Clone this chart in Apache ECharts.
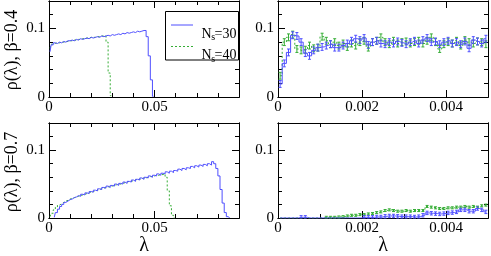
<!DOCTYPE html>
<html><head><meta charset="utf-8">
<script src="https://cdn.jsdelivr.net/npm/echarts@6/dist/echarts.min.js"></script>
<style>html,body{margin:0;padding:0;background:#fff}#c{width:491px;height:256px}</style>
</head><body><div id="c"></div>
<script>
// ---------------- data ----------------
const seriesNames = ['N_s=30', 'N_s=40'];
const binLeft = 0.001;     // histogram bin width, left panels
const binRight = 0.0001;   // histogram bin width, right panels

// top-left (beta=0.4), bins start at 0
const tlBlue = [0.066,0.076,0.079,0.078,0.080,0.079,0.081,0.080,0.082,0.082,
  0.083,0.082,0.084,0.083,0.085,0.084,0.085,0.086,0.085,0.087,
  0.086,0.087,0.088,0.087,0.089,0.088,0.089,0.090,0.089,0.091,
  0.090,0.091,0.092,0.091,0.093,0.092,0.094,0.093,0.094,0.095,
  0.094,0.096,0.095,0.096,0.097,0.097,0.088,0.060,0.025,0.001];
const tlGreen = [0.071,0.077,0.078,0.079,0.079,0.080,0.080,0.081,0.081,0.082,
  0.082,0.083,0.083,0.084,0.084,0.085,0.085,0.086,0.086,0.087,
  0.087,0.087,0.088,0.088,0.089,0.089,0.089,0.080,0.035,0.002];

// bottom-left (beta=0.7)
const blBlueStart = 0.0025;
const blBlue = [0.001,0.008,0.013,0.017,0.020,0.023,0.025,0.027,0.028,0.030,
  0.031,0.033,0.032,0.035,0.034,0.037,0.036,0.039,0.038,0.041,
  0.040,0.043,0.042,0.045,0.044,0.047,0.045,0.048,0.047,0.050,
  0.048,0.051,0.050,0.053,0.051,0.054,0.053,0.056,0.054,0.057,
  0.056,0.059,0.057,0.060,0.059,0.062,0.060,0.063,0.062,0.065,
  0.063,0.066,0.065,0.068,0.066,0.069,0.067,0.070,0.069,0.072,
  0.070,0.073,0.071,0.074,0.073,0.076,0.074,0.077,0.075,0.078,
  0.076,0.079,0.077,0.080,0.078,0.083,0.080,0.073,0.062,0.042,
  0.022,0.008,0.002,0.000];
const blGreenStart = 0.0005;
const blGreen = [0.002,0.007,0.012,0.016,0.019,0.021,0.023,0.025,0.026,0.028,
  0.029,0.030,0.031,0.032,0.033,0.034,0.035,0.036,0.037,0.038,
  0.039,0.040,0.041,0.042,0.043,0.044,0.045,0.046,0.046,0.047,
  0.048,0.049,0.050,0.050,0.051,0.052,0.053,0.054,0.054,0.055,
  0.056,0.057,0.057,0.058,0.059,0.059,0.060,0.061,0.061,0.062,
  0.063,0.063,0.064,0.064,0.065,0.060,0.040,0.018,0.004,0.000];

// top-right (zoom, beta=0.4)
const trBlue = [0.019,0.049,0.065,0.090,0.089,0.080,0.064,0.060,0.068,0.072,
  0.073,0.075,0.077,0.072,0.072,0.075,0.078,0.082,0.085,0.083,
  0.086,0.076,0.080,0.082,0.078,0.077,0.080,0.078,0.081,0.079,
  0.077,0.080,0.082,0.078,0.083,0.086,0.080,0.081,0.077,0.080,
  0.082,0.078,0.080,0.077,0.081,0.071,0.083,0.081,0.078,0.085];
const trGreen = [0.031,0.080,0.087,0.091,0.070,0.068,0.069,0.075,0.071,0.072,
  0.088,0.082,0.077,0.080,0.075,0.078,0.073,0.078,0.075,0.080,
  0.082,0.072,0.080,0.082,0.087,0.080,0.077,0.082,0.078,0.080,
  0.081,0.078,0.080,0.082,0.078,0.082,0.087,0.080,0.070,0.077,
  0.080,0.078,0.082,0.075,0.083,0.080,0.078,0.081,0.080,0.077];

// bottom-right (zoom, beta=0.7)
const brBlue = [0,0,0,0,0,0.001,0.001,0,0,0,
  0,0,0,0,0,0,0,0,0,0,
  0.001,0.001,0.001,0.0015,0.0015,0.0025,0.003,0.003,0.0025,0.002,
  0.002,0.002,0.0015,0.002,0.004,0.0075,0.007,0.0065,0.006,0.0065,
  0.0075,0.008,0.009,0.012,0.012,0.010,0.010,0.014,0.012,0.009];
const brGreen = [0,0,0,0,0,0,0,0,0,0,
  0,0.001,0.001,0.001,0.0015,0.002,0.003,0.004,0.004,0.005,
  0.005,0.006,0.0065,0.008,0.009,0.011,0.012,0.011,0.010,0.010,
  0.011,0.010,0.011,0.011,0.011,0.017,0.016,0.015,0.014,0.014,
  0.015,0.015,0.016,0.016,0.017,0.016,0.017,0.016,0.018,0.019];

// error bar half-widths
const trBlueErr = 0.005, trGreenErr = 0.005, brBlueErr = 0.0025, brGreenErr = 0.0015;

const xLabelsLeft = ['0', '0.05'];
const xLabelsRight = ['0', '0.002', '0.004'];
const yLabels = ['0', '0.1'];
const yTitles = ['ρ(λ), β=0.4', 'ρ(λ), β=0.7'];
const xTitle = 'λ';

// ---------------- chart ----------------
const BLUE = '#4f4fff', GREEN = '#35ad35';
const FONT = 'Liberation Serif';

const grids = [
  {left: 49, top: 1, width: 190, height: 96},
  {left: 278, top: 1, width: 211, height: 96},
  {left: 49, top: 123, width: 190, height: 95},
  {left: 278, top: 123, width: 211, height: 95}
];
const xSpecs = [
  {max: 0.09, minor: 0.01, major: 0.05, labels: xLabelsLeft},
  {max: 0.005, minor: 0.001, major: 0.002, labels: xLabelsRight},
  {max: 0.09, minor: 0.01, major: 0.05, labels: xLabelsLeft},
  {max: 0.005, minor: 0.001, major: 0.002, labels: xLabelsRight}
];
const ySpec = {max: 0.14, minor: 0.02, major: 0.1, labels: yLabels};

function pick(v, labels) {
  for (const l of labels) if (Math.abs(parseFloat(l) - v) < 1e-9) return l;
  return '';
}
const lineBlack = {show: true, onZero: false, lineStyle: {color: '#000', width: 1}};
function makeAxes(g, spec, isX) {
  const posA = isX ? 'bottom' : 'left', posB = isX ? 'top' : 'right';
  const base = {gridIndex: g, type: 'value', min: 0, max: spec.max, splitLine: {show: false}, axisLine: lineBlack};
  const lab = {show: true, interval: 0, margin: isX ? 3 : 4, fontFamily: FONT, fontSize: 15, color: '#000',
               formatter: v => pick(v, spec.labels)};
  const tick = len => ({show: true, inside: true, length: len, lineStyle: {color: '#000', width: 1}});
  return [
    Object.assign({}, base, {position: posA, interval: spec.minor, axisTick: tick(4), axisLabel: lab}),
    Object.assign({}, base, {position: posA, interval: spec.major, axisTick: tick(7), axisLabel: {show: false}}),
    Object.assign({}, base, {position: posB, interval: spec.minor, axisTick: tick(4), axisLabel: {show: false}}),
    Object.assign({}, base, {position: posB, interval: spec.major, axisTick: tick(7), axisLabel: {show: false}})
  ];
}
let xAxes = [], yAxes = [];
for (let g = 0; g < 4; g++) {
  xAxes = xAxes.concat(makeAxes(g, xSpecs[g], true));
  yAxes = yAxes.concat(makeAxes(g, ySpec, false));
}

function pts(arr, start, bin) { return arr.map((v, i) => [start + i * bin, v]); }
function lineSeries(name, g, data, color, dashed) {
  return {
    name: name, type: 'line', xAxisIndex: 4 * g, yAxisIndex: 4 * g, data: data,
    step: 'middle', symbol: 'none', silent: true, z: dashed ? 3 : 4,
    lineStyle: {color: color, width: 1, type: dashed ? [2, 2] : 'solid'},
    itemStyle: {color: color}
  };
}
function errSeries(g, arr, err, color) {
  const data = [];
  arr.forEach((v, i) => { if (v > 0) { const x = binRight / 2 + i * binRight; data.push([x, Math.max(0, v - err), v + err]); } });
  return {
    name: 'err', type: 'custom', xAxisIndex: 4 * g, yAxisIndex: 4 * g, silent: true, z: 3,
    encode: {x: 0, y: [1, 2]}, data: data,
    renderItem: (params, api) => {
      const x = api.value(0);
      const p1 = api.coord([x, api.value(1)]), p2 = api.coord([x, api.value(2)]);
      const st = {stroke: color, lineWidth: 1};
      return {type: 'group', children: [
        {type: 'line', shape: {x1: p1[0], y1: p1[1], x2: p2[0], y2: p2[1]}, style: st},
        {type: 'line', shape: {x1: p1[0] - 1.5, y1: p1[1], x2: p1[0] + 1.5, y2: p1[1]}, style: st},
        {type: 'line', shape: {x1: p2[0] - 1.5, y1: p2[1], x2: p2[0] + 1.5, y2: p2[1]}, style: st}
      ]};
    }
  };
}

const series = [
  lineSeries(seriesNames[0], 0, pts(tlBlue, binLeft / 2, binLeft), BLUE, false),
  lineSeries(seriesNames[1], 0, pts(tlGreen, binLeft / 2, binLeft), GREEN, true),
  lineSeries(seriesNames[1], 1, pts(trGreen, binRight / 2, binRight), GREEN, true),
  errSeries(1, trGreen, trGreenErr, GREEN),
  lineSeries(seriesNames[0], 1, pts(trBlue, binRight / 2, binRight), BLUE, false),
  errSeries(1, trBlue, trBlueErr, BLUE),
  lineSeries(seriesNames[0], 2, pts(blBlue, blBlueStart, binLeft), BLUE, false),
  lineSeries(seriesNames[1], 2, pts(blGreen, blGreenStart, binLeft), GREEN, true),
  lineSeries(seriesNames[1], 3, pts(brGreen, binRight / 2, binRight), GREEN, true),
  errSeries(3, brGreen, brGreenErr, GREEN),
  lineSeries(seriesNames[0], 3, pts(brBlue, binRight / 2, binRight), BLUE, false),
  errSeries(3, brBlue, brBlueErr, BLUE)
];

// legend drawn as graphic (box, sample lines, text with subscript)
function legendEntry(name, color, dashed, yLine) {
  const parts = name.split('_');            // 'N', 's=30'
  const main = parts[0], sub = parts[1][0], rest = parts[1].slice(1);
  const f = sz => sz + 'px "Liberation Serif"';
  return [
    {type: 'line', z: 101, shape: {x1: 171, y1: yLine, x2: 193, y2: yLine},
     style: {stroke: color, lineWidth: 1, lineDash: dashed ? [2, 2] : null}},
    {type: 'text', z: 101, x: 201.5, y: yLine + 2,
     style: {text: main, font: f(14), fill: '#000', textAlign: 'left', textBaseline: 'alphabetic'}},
    {type: 'text', z: 101, x: 211.2, y: yLine + 7.5,
     style: {text: sub, font: f(10), fill: '#000', textAlign: 'left', textBaseline: 'alphabetic'}},
    {type: 'text', z: 101, x: 214.5, y: yLine + 2,
     style: {text: rest, font: f(14), fill: '#000', textAlign: 'left', textBaseline: 'alphabetic'}}
  ];
}

const chart = echarts.init(document.getElementById('c'), null, {renderer: 'canvas'});
chart.setOption({
  animation: false,
  backgroundColor: '#fff',
  grid: grids,
  xAxis: xAxes,
  yAxis: yAxes,
  graphic: [
    {type: 'rect', z: 100, shape: {x: 165.5, y: 11.5, width: 73, height: 48.5},
     style: {fill: '#fff', stroke: '#000', lineWidth: 1}},
    ...legendEntry(seriesNames[0], BLUE, false, 25),
    ...legendEntry(seriesNames[1], GREEN, true, 46.5),
    {type: 'text', x: 12, y: 50, rotation: Math.PI / 2,
     style: {text: yTitles[0], font: '18px "Liberation Serif"', fill: '#000', textAlign: 'center', textVerticalAlign: 'middle'}},
    {type: 'text', x: 12, y: 172, rotation: Math.PI / 2,
     style: {text: yTitles[1], font: '18px "Liberation Serif"', fill: '#000', textAlign: 'center', textVerticalAlign: 'middle'}},
    {type: 'text', x: 144, y: 246,
     style: {text: xTitle, font: '20px "Liberation Serif"', fill: '#000', textAlign: 'center', textVerticalAlign: 'middle'}},
    {type: 'text', x: 383, y: 246,
     style: {text: xTitle, font: '20px "Liberation Serif"', fill: '#000', textAlign: 'center', textVerticalAlign: 'middle'}}
  ],
  series: series
});
</script>
</body></html>
